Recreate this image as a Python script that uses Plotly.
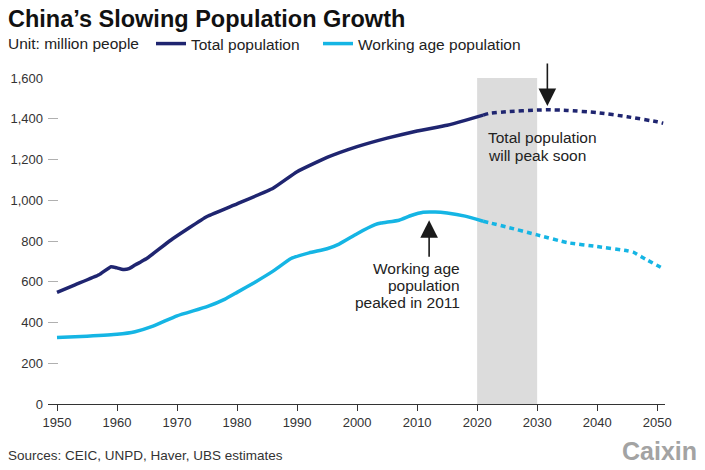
import plotly.graph_objects as go

# ---- data (million people) ----
total_years = [1950, 1953, 1957, 1959, 1960, 1961, 1962, 1963, 1964, 1965, 1969, 1975, 1980,
               1986, 1990, 1995, 2000, 2005, 2010, 2015, 2018, 2021]
total_vals = [548, 585, 634, 674, 668, 660, 664, 682, 698, 715, 805, 920, 982,
              1059, 1140, 1210, 1263, 1305, 1340, 1368, 1392, 1418]
total_proj_years = [2021, 2022, 2025, 2030, 2032, 2035, 2040, 2045, 2050, 2051]
total_proj_vals = [1418, 1426, 1435, 1443, 1444, 1441, 1430, 1410, 1385, 1378]

wap_years = [1950, 1955, 1960, 1963, 1966, 1970, 1975, 1978, 1980, 1983, 1986, 1989, 1992,
             1995, 1997, 2000, 2003, 2004, 2007, 2009, 2011, 2013, 2015, 2018, 2021]
wap_vals = [326, 333, 342, 355, 382, 433, 478, 515, 548, 598, 652, 714, 742,
            762, 785, 836, 880, 888, 902, 925, 941, 942, 937, 922, 897]
wap_proj_years = [2021, 2022, 2025, 2030, 2035, 2040, 2045, 2046, 2048, 2051]
wap_proj_vals = [897, 890, 868, 830, 792, 773, 752, 745, 712, 665]

x_ticks = [1950, 1960, 1970, 1980, 1990, 2000, 2010, 2020, 2030, 2040, 2050]
y_ticks = [0, 200, 400, 600, 800, 1000, 1200, 1400, 1600]
y_labels = ["0", "200", "400", "600", "800", "1,000", "1,200", "1,400", "1,600"]

NAVY = "#1f2570"
CYAN = "#15b5e4"
FONT = "Liberation Sans, Arial, sans-serif"

W, H = 705, 470
ML, MR, MT, MB = 48, 40, 78, 66
pw, ph = W - ML - MR, H - MT - MB


def px_x(px):
    return (px - ML) / pw


def px_y(py):
    return 1 - (py - MT) / ph


fig = go.Figure()
fig.add_trace(go.Scatter(x=total_years, y=total_vals, mode="lines", name="Total population",
                         legend="legend",
                         line=dict(color=NAVY, width=3.5, shape="spline", smoothing=0.4)))
fig.add_trace(go.Scatter(x=wap_years, y=wap_vals, mode="lines", name="Working age population",
                         legend="legend2",
                         line=dict(color=CYAN, width=3.5, shape="spline", smoothing=0.4)))
fig.add_trace(go.Scatter(x=total_proj_years, y=total_proj_vals, mode="lines", showlegend=False,
                         line=dict(color=NAVY, width=3.5, dash="5px,4px", shape="spline", smoothing=0.4)))
fig.add_trace(go.Scatter(x=wap_proj_years, y=wap_proj_vals, mode="lines", showlegend=False,
                         line=dict(color=CYAN, width=3.5, dash="5px,4px", shape="spline", smoothing=0.4)))

# shaded 2020-2030 band
fig.add_shape(type="rect", xref="x", yref="y", x0=2020, x1=2030, y0=0, y1=1600,
              fillcolor="#dcdcdc", line=dict(width=0), layer="below")

TXT = dict(family=FONT, size=15.5, color="#222")
annotations = [
    dict(x=2031.7, y=1462, xref="x", yref="y", text="", showarrow=True, ax=0, ay=-44,
         arrowhead=2, arrowsize=2.2, arrowwidth=1.6, arrowcolor="#1a1a1a"),
    dict(x=2012.0, y=902, xref="x", yref="y", text="", showarrow=True, ax=0, ay=38,
         arrowhead=2, arrowsize=2.2, arrowwidth=1.6, arrowcolor="#1a1a1a"),
]
for txt, py in [("Total population", 137), ("will peak soon", 155)]:
    annotations.append(dict(x=px_x(486), y=px_y(py), xref="paper", yref="paper",
                            xanchor="left", yanchor="middle", text=txt, showarrow=False, font=TXT))
for txt, py in [("Working age", 268), ("population", 285), ("peaked in 2011", 302)]:
    annotations.append(dict(x=px_x(462), y=px_y(py), xref="paper", yref="paper",
                            xanchor="right", yanchor="middle", text=txt, showarrow=False, font=TXT))
annotations += [
    dict(x=px_x(6), y=px_y(19), xref="paper", yref="paper", xanchor="left", yanchor="middle",
         text="<b>China’s Slowing Population Growth</b>", showarrow=False,
         font=dict(family=FONT, size=23.5, color="#111")),
    dict(x=px_x(6), y=px_y(44), xref="paper", yref="paper", xanchor="left", yanchor="middle",
         text="Unit: million people", showarrow=False, font=TXT),
    dict(x=px_x(6), y=px_y(455), xref="paper", yref="paper", xanchor="left", yanchor="middle",
         text="Sources: CEIC, UNPD, Haver, UBS estimates", showarrow=False,
         font=dict(family=FONT, size=13.5, color="#333")),
    dict(x=px_x(699), y=px_y(451), xref="paper", yref="paper", xanchor="right", yanchor="middle",
         text="<b>Caixin</b>", showarrow=False, font=dict(family=FONT, size=25, color="#a3a3a3")),
]

leg_common = dict(orientation="h", xanchor="left", yanchor="middle", font=TXT,
                  bgcolor="rgba(0,0,0,0)", itemwidth=30)

fig.update_layout(
    template="none",
    width=W, height=H,
    margin=dict(l=ML, r=MR, t=MT, b=MB, autoexpand=False),
    paper_bgcolor="white", plot_bgcolor="white",
    font=dict(family=FONT, color="#333"),
    showlegend=True,
    hovermode=False,
    legend=dict(x=px_x(151), y=px_y(44), **leg_common),
    legend2=dict(x=px_x(318), y=px_y(44), **leg_common),
    annotations=annotations,
    xaxis=dict(range=[1948.5, 2051.3], tickvals=x_ticks, ticks="outside", ticklen=6,
               tickcolor="#333", showline=True, linecolor="#333", linewidth=1, automargin=False,
               showgrid=False, zeroline=False, tickfont=dict(size=13, color="#333")),
    yaxis=dict(range=[0, 1600], tickvals=y_ticks, ticktext=y_labels, ticks="inside", ticklen=10,
               tickcolor="#b0b0b0", showline=False, showgrid=False, zeroline=False, automargin=False,
               tickfont=dict(size=13, color="#333"), ticklabelstandoff=4),
)

fig.write_html("out.html", config={"displayModeBar": False},
               post_script="document.body.style.margin='0';document.body.style.overflow='hidden';")
